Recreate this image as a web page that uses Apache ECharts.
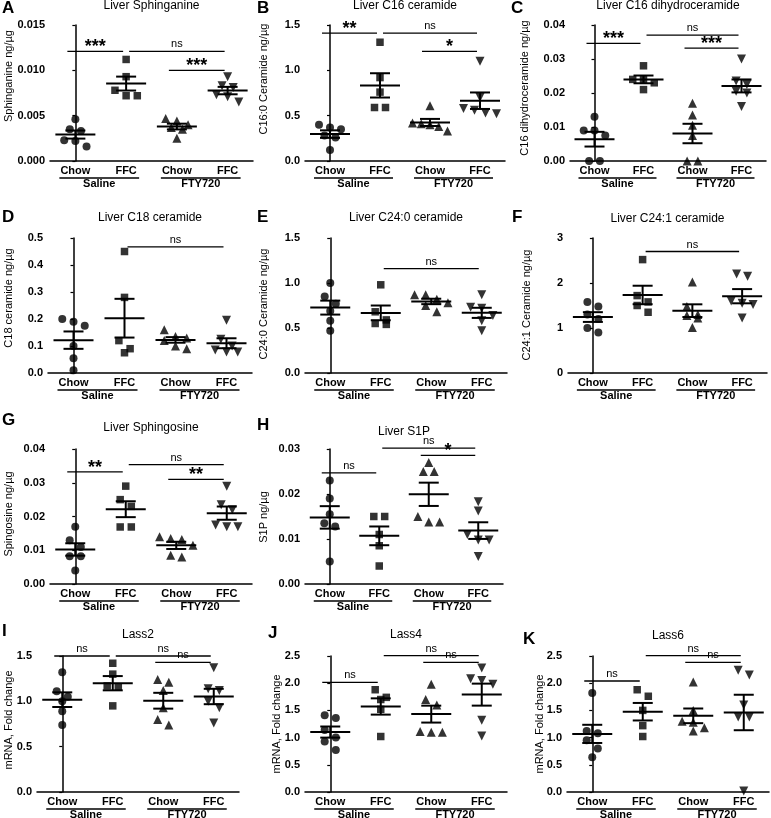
<!DOCTYPE html>
<html>
<head>
<meta charset="utf-8">
<script src="https://cdn.jsdelivr.net/npm/echarts@6/dist/echarts.min.js"></script>
<style>
  html, body { margin: 0; padding: 0; background: #fff; }
  #main { width: 771px; height: 818px; }
</style>
</head>
<body>
<div id="main"></div>
<script>
// groups on x, treatment labels under them
var xGroups = ['Chow', 'FFC', 'Chow', 'FFC']
var treatments = ['Saline', 'FTY720']
var treatmentSpan = [[0, 1], [2, 3]]
var markers = ['circle', 'rect', 'triangle', 'triangle']
var markerRotate = [0, 0, 0, 180]

// A Liver Sphinganine
var sphinganine = [
    [0.0046, 0.0035, 0.0033, 0.0023, 0.0022, 0.0016],
    [0.0112, 0.0093, 0.0078, 0.0072, 0.0072],
    [0.0047, 0.0044, 0.0040, 0.0037, 0.0035, 0.0025],
    [0.0093, 0.0083, 0.0081, 0.0073, 0.0071, 0.0065]
]
var sphinganineSig = [[0, 1, 0.0121, '***'], [1, 3, 0.0121, 'ns'], [2, 3, 0.0100, '***']]
var sphinganineTicks = [0, 0.015, 0.005, 3]

// B Liver C16 ceramide
var c16 = [
    [0.40, 0.37, 0.35, 0.28, 0.26, 0.12],
    [1.31, 0.92, 0.76, 0.59, 0.59],
    [0.61, 0.42, 0.41, 0.40, 0.38, 0.33],
    [1.10, 0.70, 0.58, 0.56, 0.53, 0.52]
]
var c16Sig = [[0, 1, 1.41, '**'], [1, 3, 1.41, 'ns'], [2, 3, 1.21, '*']]
var c16Ticks = [0, 1.5, 0.5, 1]

// C Liver C16 dihydroceramide
var c16dh = [
    [0.013, 0.009, 0.009, 0.0075, 0, 0],
    [0.028, 0.024, 0.024, 0.023, 0.021],
    [0.017, 0.0135, 0.0105, 0.0075, 0, 0],
    [0.030, 0.0235, 0.0225, 0.0205, 0.020, 0.016]
]
var c16dhSig = [[0, 1, 0.0346, '***'], [1, 3, 0.0370, 'ns'], [2, 3, 0.0332, '***']]
var c16dhTicks = [0, 0.04, 0.01, 2]

// D Liver C18 ceramide
var c18 = [
    [0.20, 0.19, 0.175, 0.10, 0.055, 0.01],
    [0.45, 0.28, 0.12, 0.09, 0.075],
    [0.16, 0.135, 0.13, 0.12, 0.10, 0.09],
    [0.195, 0.125, 0.10, 0.085, 0.078, 0.078]
]
var c18Sig = [[1, 3, 0.467, 'ns']]
var c18Ticks = [0, 0.5, 0.1, 1]

// E Liver C24:0 ceramide
var c240 = [
    [1.0, 0.85, 0.77, 0.69, 0.58, 0.47],
    [0.98, 0.68, 0.59, 0.55, 0.54],
    [0.87, 0.87, 0.82, 0.78, 0.75, 0.68],
    [0.87, 0.73, 0.72, 0.64, 0.58, 0.47]
]
var c240Sig = [[1, 3, 1.16, 'ns']]
var c240Ticks = [0, 1.5, 0.5, 1]

// F Liver C24:1 ceramide
var c241 = [
    [1.58, 1.48, 1.30, 1.20, 1.0, 0.90],
    [2.52, 1.72, 1.58, 1.50, 1.35],
    [2.02, 1.48, 1.30, 1.28, 1.22, 1.01],
    [2.2, 2.15, 1.6, 1.55, 1.52, 1.22]
]
var c241Sig = [[1, 3, 2.70, 'ns']]
var c241Ticks = [0, 3, 1, 0]

// G Liver Sphingosine
var sphingosine = [
    [0.017, 0.013, 0.011, 0.0082, 0.0082, 0.004],
    [0.029, 0.025, 0.023, 0.0169, 0.0169],
    [0.014, 0.0135, 0.0132, 0.0115, 0.0085, 0.008],
    [0.029, 0.0235, 0.022, 0.0175, 0.017, 0.017]
]
var sphingosineSig = [[0, 1, 0.0332, '**'], [1, 3, 0.0354, 'ns'], [2, 3, 0.0310, '**']]
var sphingosineTicks = [0, 0.04, 0.01, 2]

// H Liver S1P
var s1p = [
    [0.023, 0.019, 0.0155, 0.0135, 0.0128, 0.005],
    [0.015, 0.015, 0.011, 0.0085, 0.004],
    [0.027, 0.025, 0.025, 0.015, 0.0138, 0.0138],
    [0.0183, 0.0162, 0.011, 0.0098, 0.0098, 0.0061]
]
var s1pSig = [[0, 1, 0.0247, 'ns'], [1, 3, 0.0302, 'ns'], [2, 3, 0.0286, '*']]
var s1pTicks = [0, 0.03, 0.01, 2]

// I Lass2
var lass2 = [
    [1.32, 1.11, 1.05, 1.0, 0.89, 0.74],
    [1.42, 1.30, 1.17, 1.16, 0.95],
    [1.24, 1.21, 1.12, 0.93, 0.80, 0.74],
    [1.37, 1.14, 1.12, 1.0, 0.93, 0.76]
]
var lass2Sig = [[0, 1, 1.50, 'ns'], [1, 3, 1.50, 'ns'], [2, 3, 1.43, 'ns']]
var lass2Ticks = [0, 1.5, 0.5, 1]

// J Lass4
var lass4 = [
    [1.41, 1.36, 1.14, 1.0, 0.93, 0.77],
    [1.88, 1.74, 1.70, 1.52, 1.02],
    [1.98, 1.70, 1.60, 1.11, 1.10, 1.10],
    [2.28, 2.08, 2.05, 1.98, 1.32, 1.03]
]
var lass4Sig = [[0, 1, 2.015, 'ns'], [1, 3, 2.506, 'ns'], [2, 3, 2.383, 'ns']]
var lass4Ticks = [0, 2.5, 0.5, 1]

// K Lass6
var lass6 = [
    [1.82, 1.12, 1.08, 0.95, 0.80, 0.64],
    [1.88, 1.76, 1.50, 1.22, 1.02],
    [2.02, 1.50, 1.30, 1.28, 1.18, 1.12],
    [2.24, 2.15, 1.6, 1.38, 1.38, 0.02]
]
var lass6Sig = [[0, 1, 2.04, 'ns'], [1, 3, 2.506, 'ns'], [2, 3, 2.383, 'ns']]
var lass6Ticks = [0, 2.5, 0.5, 1]

var letters = ['A', 'B', 'C', 'D', 'E', 'F', 'G', 'H', 'I', 'J', 'K']
var titles = ['Liver Sphinganine', 'Liver C16 ceramide', 'Liver C16 dihydroceramide',
    'Liver C18 ceramide', 'Liver C24:0 ceramide', 'Liver C24:1 ceramide',
    'Liver Sphingosine', 'Liver S1P', 'Lass2', 'Lass4', 'Lass6']
var yNames = ['Sphinganine ng/µg', 'C16:0 Ceramide ng/µg', 'C16 dihydroceramide ng/µg',
    'C18 ceramide ng/µg', 'C24:0 Ceramide ng/µg', 'C24:1 Ceramide ng/µg',
    'Spingosine ng/µg', 'S1P ng/µg', 'mRNA, Fold change', 'mRNA, Fold change', 'mRNA, Fold change']
var panelData = [sphinganine, c16, c16dh, c18, c240, c241, sphingosine, s1p, lass2, lass4, lass6]
var panelSig = [sphinganineSig, c16Sig, c16dhSig, c18Sig, c240Sig, c241Sig, sphingosineSig, s1pSig, lass2Sig, lass4Sig, lass6Sig]
var panelTicks = [sphinganineTicks, c16Ticks, c16dhTicks, c18Ticks, c240Ticks, c241Ticks, sphingosineTicks, s1pTicks, lass2Ticks, lass4Ticks, lass6Ticks]

// layout: grid box [left, top, width, height], title y, letter [x, y], y name [x, y]
var boxes = [
    [50, 25, 203, 136], [305, 25, 200, 136], [570, 25, 196, 136],
    [48, 238, 204, 135], [305, 238, 202, 135], [568, 238, 199, 135],
    [50, 449, 202, 135], [305, 449, 198, 135],
    [37, 656, 202, 136], [305, 656, 202, 136], [567, 656, 202, 136]
]
var titleY = [6, 6, 6, 218, 218, 219, 428, 432, 635, 635, 636]
var letterPos = [[2, 8], [257, 8], [511, 8], [2, 217], [257, 217], [512, 217], [2, 420], [257, 425], [2, 631], [268, 633], [523, 639]]
var yNamePos = [[9, 76], [264, 79], [525, 88], [9, 298], [264, 304], [527, 305], [9, 514], [264, 517], [9, 720], [277, 724], [540, 724]]

var font = "'Liberation Sans', Arial, sans-serif"

// spread points with close values side by side
function spread(values, range) {
    var sorted = values.map(function(v, i) { return {v: v, i: i} }).sort(function(a, b) { return b.v - a.v })
    var rows = []
    sorted.forEach(function(p) {
        var last = rows[rows.length - 1]
        if (last && last[0].v - p.v < range * 0.065) last.push(p)
        else rows.push([p])
    })
    var offs = []
    rows.forEach(function(r) {
        var step = r.length > 1 ? Math.min(0.22, 0.7 / (r.length - 1)) : 0
        r.forEach(function(p, k) { offs[p.i] = (k - (r.length - 1) / 2) * step })
    })
    return offs
}

function meanSem(values) {
    var n = values.length
    var m = values.reduce(function(a, b) { return a + b }, 0) / n
    var ss = values.reduce(function(a, b) { return a + (b - m) * (b - m) }, 0)
    return [m, Math.sqrt(ss / (n - 1)) / Math.sqrt(n)]
}

var grid = [], xAxis = [], yAxis = [], series = [], title = [], graphic = []

panelData.forEach(function(data, p) {
    var b = boxes[p]
    var t = panelTicks[p]
    var sig = panelSig[p]
    grid.push({left: b[0], top: b[1], width: b[2], height: b[3]})
    xAxis.push({type: 'value', gridIndex: p, min: -0.5, max: 3.5, show: false})
    xAxis.push({
        type: 'category', gridIndex: p, data: xGroups, position: 'bottom',
        axisLine: {lineStyle: {color: '#000', width: 1.5}},
        axisTick: {alignWithLabel: true, length: 4, lineStyle: {color: '#000', width: 1.2}},
        axisLabel: {color: '#000', fontFamily: font, fontWeight: 'bold', fontSize: 11, margin: 4},
        splitLine: {show: false}
    })
    yAxis.push({
        type: 'value', gridIndex: p, min: t[0], max: t[1], interval: t[2],
        axisLine: {show: true, lineStyle: {color: '#000', width: 1.5}},
        axisTick: {show: true, length: 3, lineStyle: {color: '#000', width: 1.2}},
        axisLabel: {
            color: '#000', fontFamily: font, fontWeight: 'bold', fontSize: 11, margin: 5,
            formatter: function(v) { return v.toFixed(t[3]) }
        },
        splitLine: {show: false}
    })

    // points
    var pts = []
    data.forEach(function(vals, g) {
        var offs = spread(vals, t[1] - t[0])
        vals.forEach(function(v, k) {
            pts.push({value: [g + offs[k], v], symbol: markers[g], symbolRotate: markerRotate[g],
                symbolSize: g >= 2 ? 9 : (g === 1 ? 7.5 : 8)})
        })
    })
    series.push({
        type: 'scatter', xAxisIndex: 2 * p, yAxisIndex: p, data: pts,
        itemStyle: {color: '#000'}, silent: true, z: 3
    })

    // mean +- SEM
    var stats = data.map(function(vals, g) { var s = meanSem(vals); return [g, s[0], s[1]] })
    series.push({
        type: 'custom', xAxisIndex: 2 * p, yAxisIndex: p, data: stats, clip: false, z: 4,
        renderItem: function(params, api) {
            var x = api.value(0), m = api.value(1), s = api.value(2)
            var c = api.coord([x, m]), hi = api.coord([x, m + s]), lo = api.coord([x, m - s])
            var st = {stroke: '#000', lineWidth: 2}
            return {type: 'group', children: [
                {type: 'line', shape: {x1: c[0] - 20, y1: c[1], x2: c[0] + 20, y2: c[1]}, style: st},
                {type: 'line', shape: {x1: c[0], y1: hi[1], x2: c[0], y2: lo[1]}, style: st},
                {type: 'line', shape: {x1: c[0] - 10, y1: hi[1], x2: c[0] + 10, y2: hi[1]}, style: st},
                {type: 'line', shape: {x1: c[0] - 10, y1: lo[1], x2: c[0] + 10, y2: lo[1]}, style: st}
            ]}
        }
    })

    // significance lines
    series.push({
        type: 'custom', xAxisIndex: 2 * p, yAxisIndex: p, clip: false, z: 4,
        data: sig.map(function(s) { return [s[0], s[2]] }),
        renderItem: function(params, api) {
            var s = sig[params.dataIndex]
            var p1 = api.coord([s[0], s[2]]), p2 = api.coord([s[1], s[2]])
            var x1 = p1[0] + (s[0] % 2 ? 3 : -8), x2 = p2[0] - 3, y = p1[1]
            var star = s[3] !== 'ns'
            return {type: 'group', children: [
                {type: 'line', shape: {x1: x1, y1: y, x2: x2, y2: y}, style: {stroke: '#000', lineWidth: 1.3}},
                {type: 'text', x: (x1 + x2) / 2, y: star ? y - 4 : y - 7, style: {
                    text: s[3], fill: '#000', align: 'center', verticalAlign: 'middle',
                    font: star ? 'bold 18px ' + font : '11px ' + font
                }}
            ]}
        }
    })

    // treatment underline + label
    series.push({
        type: 'custom', xAxisIndex: 2 * p, yAxisIndex: p, clip: false, z: 4,
        data: treatmentSpan.map(function(s) { return [s[0], t[0]] }),
        renderItem: function(params, api) {
            var s = treatmentSpan[params.dataIndex]
            var a = api.coord([s[0], t[0]]), c = api.coord([s[1], t[0]])
            var x1 = a[0] - 16, x2 = c[0] + 13, y = a[1] + 17
            return {type: 'group', children: [
                {type: 'line', shape: {x1: x1, y1: y, x2: x2, y2: y}, style: {stroke: '#000', lineWidth: 1.3}},
                {type: 'text', x: (x1 + x2) / 2, y: y + 6, style: {
                    text: treatments[params.dataIndex], fill: '#000', align: 'center', verticalAlign: 'middle',
                    font: 'bold 11px ' + font
                }}
            ]}
        }
    })

    title.push({
        text: titles[p], left: b[0] + b[2] / 2, top: titleY[p], textAlign: 'center', textVerticalAlign: 'middle',
        padding: 0, textStyle: {color: '#000', fontFamily: font, fontWeight: 'normal', fontSize: 12}
    })
    title.push({
        text: letters[p], left: letterPos[p][0], top: letterPos[p][1], textAlign: 'left', textVerticalAlign: 'middle',
        padding: 0, textStyle: {color: '#000', fontFamily: font, fontWeight: 'bold', fontSize: 17}
    })
    graphic.push({
        type: 'text', x: yNamePos[p][0], y: yNamePos[p][1], rotation: Math.PI / 2,
        style: {text: yNames[p], fill: '#000', font: '11px ' + font, align: 'center', verticalAlign: 'middle'}
    })
})

var myChart = echarts.init(document.getElementById('main'))
myChart.setOption({
    animation: false,
    backgroundColor: '#fff',
    title: title,
    grid: grid,
    xAxis: xAxis,
    yAxis: yAxis,
    graphic: graphic,
    series: series
})
</script>
</body>
</html>
